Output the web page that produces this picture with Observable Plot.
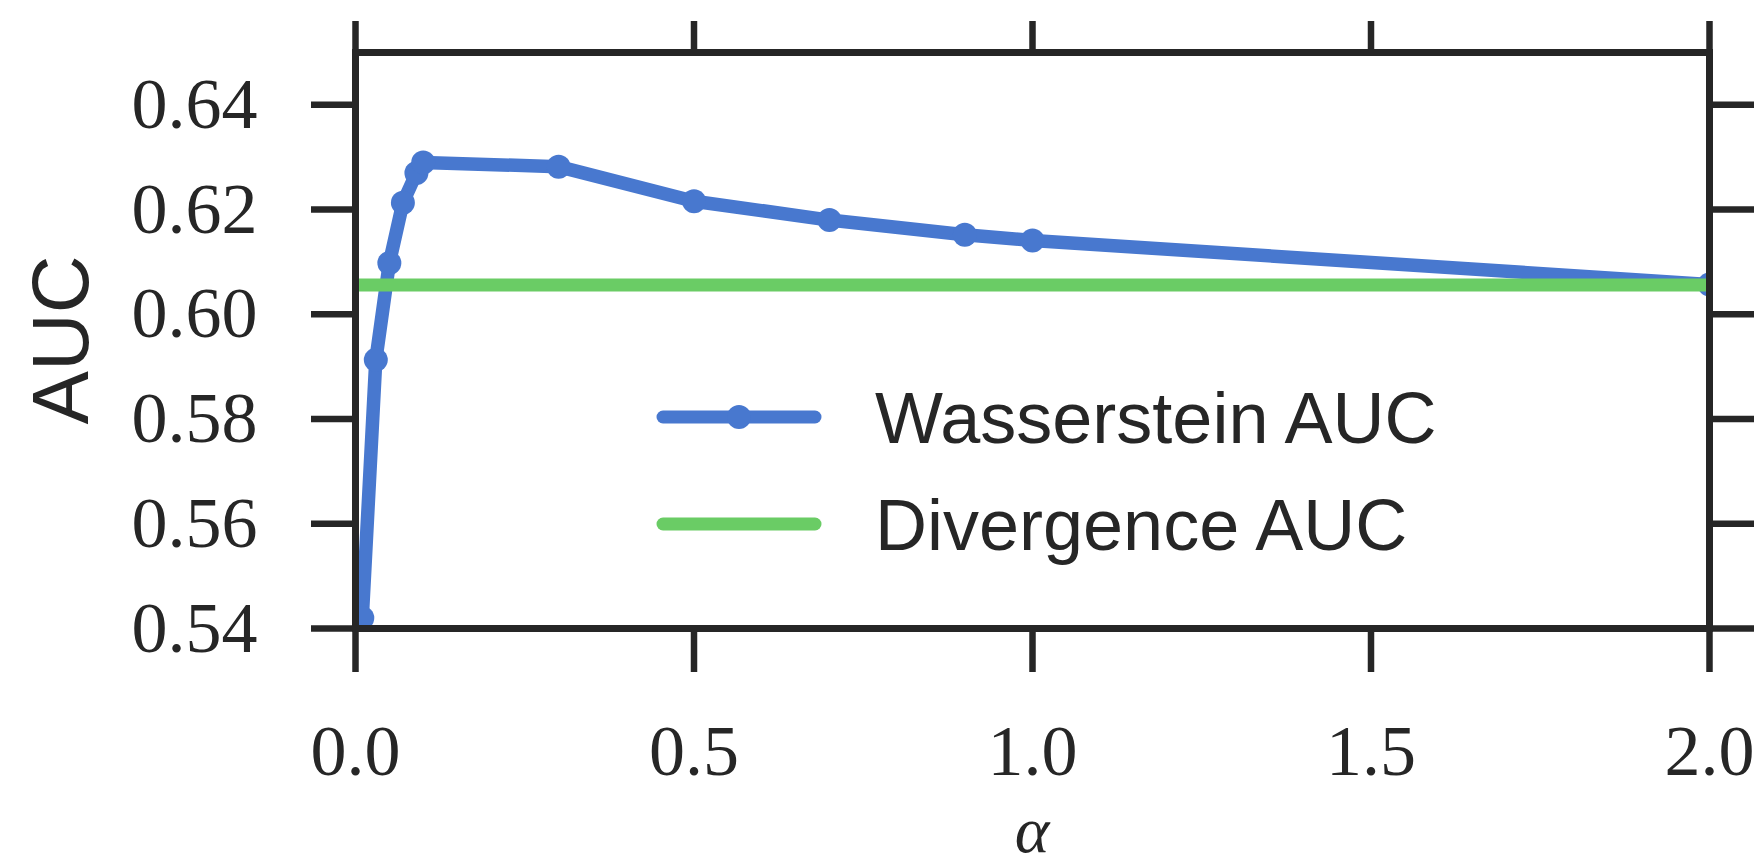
<!DOCTYPE html>
<html>
<head>
<meta charset="utf-8">
<script src="https://cdn.jsdelivr.net/npm/d3@7"></script>
<script src="https://cdn.jsdelivr.net/npm/@observablehq/plot@0.6"></script>
<style>
  html, body { margin: 0; padding: 0; background: #ffffff; }
  #chart { width: 1762px; height: 862px; overflow: hidden; }
</style>
</head>
<body>
<div id="chart"></div>
<script>
// ---- data ----
const alphaValues = [0.01, 0.03, 0.05, 0.07, 0.09, 0.1, 0.3, 0.5, 0.7, 0.9, 1.0, 2.0];
const wassersteinAUC = [0.542, 0.5913, 0.6098, 0.6213, 0.627, 0.629, 0.6282, 0.6216, 0.618, 0.6152, 0.6141, 0.6057];
const divergenceAUC = [0.6056];
const xTicks = [0, 0.5, 1.0, 1.5, 2.0];
const yTicks = [0.54, 0.56, 0.58, 0.60, 0.62, 0.64];
const seriesNames = ["Wasserstein AUC", "Divergence AUC"];
const seriesColors = ["#4878CF", "#6ACC65"];

const wassData = alphaValues.map((a, i) => ({alpha: a, auc: wassersteinAUC[i]}));

const ink = "#262626";
const W = 1762, H = 862;
const mL = 355, mR = 53, mT = 52, mB = 234;

const svg = Plot.plot({
  width: W,
  height: H,
  marginLeft: mL,
  marginRight: mR,
  marginTop: mT,
  marginBottom: mB,
  style: {background: "#ffffff", fontFamily: "'Liberation Serif', serif", fontSize: "72px", color: ink, overflow: "hidden"},
  x: {domain: [0, 2], label: null},
  y: {domain: [0.54, 0.65], label: null},
  marks: [
    Plot.axisX({anchor: "bottom", ticks: xTicks, tickSize: 44, tickPadding: 51, strokeWidth: 6.5, stroke: ink, fill: ink,
                tickFormat: d3.format(".1f"), fontSize: 72, fontFamily: "'Liberation Serif', serif", label: null}),
    Plot.axisX({anchor: "top", ticks: xTicks, tickSize: 32, strokeWidth: 6.5, stroke: ink, tickFormat: () => "", label: null}),
    Plot.axisY({anchor: "left", ticks: yTicks, tickSize: 44, tickPadding: 54, strokeWidth: 6.5, stroke: ink, fill: ink,
                tickFormat: d3.format(".2f"), fontSize: 72, fontFamily: "'Liberation Serif', serif", label: null}),
    Plot.axisY({anchor: "right", ticks: yTicks, tickSize: 44, strokeWidth: 6.5, stroke: ink, tickFormat: () => "", label: null}),
    Plot.line(wassData, {x: "alpha", y: "auc", stroke: seriesColors[0], strokeWidth: 13.5, clip: true}),
    Plot.dot(wassData, {x: "alpha", y: "auc", r: 12, fill: seriesColors[0], stroke: "none", clip: true}),
    Plot.ruleY(divergenceAUC, {stroke: seriesColors[1], strokeWidth: 13, clip: true}),
    Plot.frame({stroke: ink, strokeWidth: 7})
  ]
});

document.getElementById("chart").appendChild(svg);

// ---- axis labels and legend (non-data decorations) ----
const s = d3.select(svg);
s.append("text")
  .attr("transform", `translate(88, ${mT + (H - mT - mB) / 2}) rotate(-90)`)
  .attr("text-anchor", "middle")
  .attr("font-family", "'Liberation Sans', Arial, sans-serif")
  .attr("font-size", 80)
  .attr("fill", ink)
  .text("AUC");

s.append("text")
  .attr("x", mL + (W - mL - mR) / 2)
  .attr("y", 852)
  .attr("text-anchor", "middle")
  .attr("font-family", "'Liberation Serif', serif")
  .attr("font-style", "italic")
  .attr("font-size", 66)
  .attr("fill", ink)
  .text("α");

const legend = s.append("g");
const legY = [417, 524];
seriesNames.forEach((name, i) => {
  legend.append("line")
    .attr("x1", 663).attr("x2", 815)
    .attr("y1", legY[i]).attr("y2", legY[i])
    .attr("stroke", seriesColors[i])
    .attr("stroke-width", 13)
    .attr("stroke-linecap", "round");
  if (i === 0) {
    legend.append("circle")
      .attr("cx", 739).attr("cy", legY[i]).attr("r", 12)
      .attr("fill", seriesColors[i]);
  }
  legend.append("text")
    .attr("x", 875)
    .attr("y", legY[i] + 26)
    .attr("text-anchor", "start")
    .attr("font-family", "'Liberation Sans', Arial, sans-serif")
    .attr("font-size", 72)
    .attr("fill", ink)
    .text(name);
});
</script>
</body>
</html>
